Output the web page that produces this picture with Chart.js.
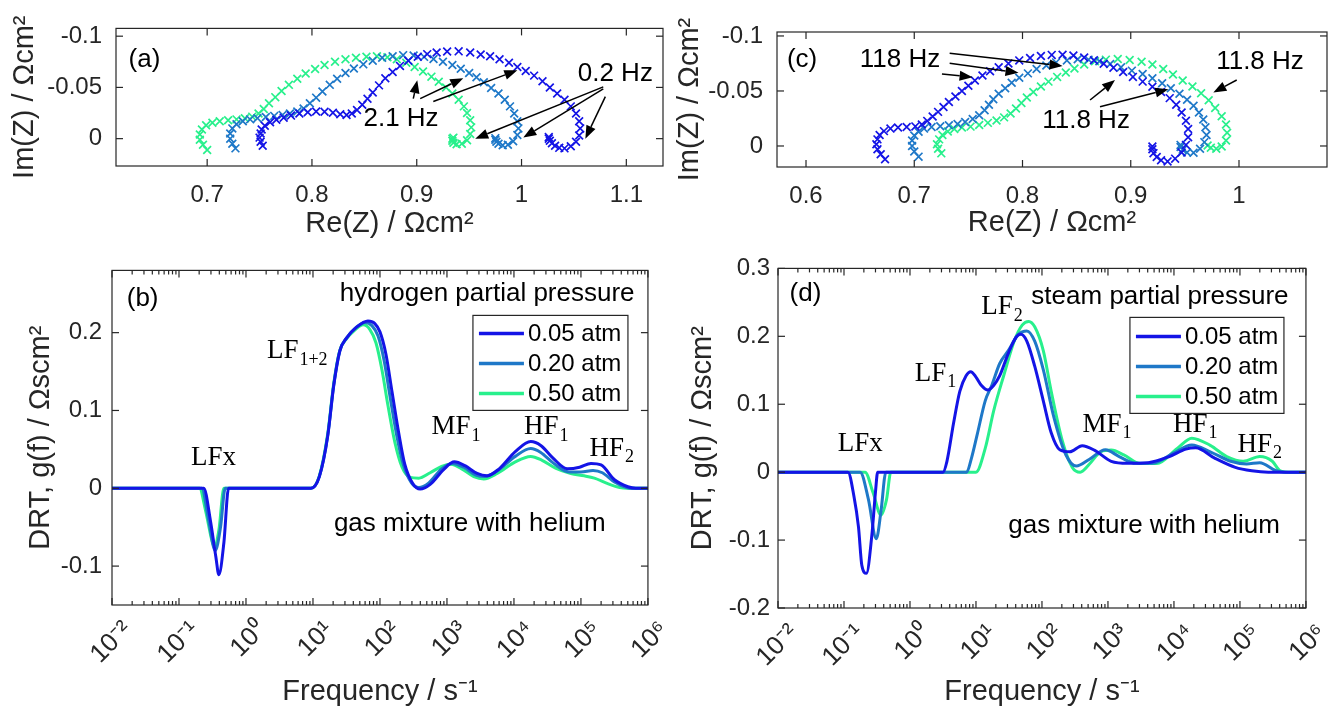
<!DOCTYPE html>
<html>
<head>
<meta charset="utf-8">
<script src="https://cdn.jsdelivr.net/npm/chart.js@4.4.1/dist/chart.umd.min.js"></script>
<style>
  body { margin: 0; background: #fff; }
  #fig { position: relative; width: 1338px; height: 707px; overflow: hidden; }
  canvas { position: absolute; }
</style>
</head>
<body>
<div id="fig">
  <canvas id="pa" width="680" height="246" style="left:0;top:0"></canvas>
  <canvas id="pc" width="668" height="246" style="left:670px;top:0"></canvas>
  <canvas id="pb" width="680" height="461" style="left:0;top:246px"></canvas>
  <canvas id="pd" width="668" height="461" style="left:670px;top:246px"></canvas>
</div>
<script>
// series names (partial pressure)
const pressures = ["0.05 atm", "0.20 atm", "0.50 atm"];

// Nyquist (a), hydrogen partial pressure: [Re(Z), Im(Z)]
const nyqH2_005 = [
  [0.753, 0.0070], [0.751, 0.0030], [0.750, -0.0010], [0.751, -0.0050], [0.752, -0.0090], [0.755, -0.0125],
  [0.760, -0.0160], [0.766, -0.0185], [0.773, -0.0205], [0.780, -0.0225], [0.788, -0.0245], [0.796, -0.0258],
  [0.804, -0.0265], [0.812, -0.0262], [0.820, -0.0252], [0.827, -0.0238], [0.833, -0.0230], [0.838, -0.0245],
  [0.843, -0.0280], [0.848, -0.0330], [0.853, -0.0390], [0.858, -0.0450], [0.864, -0.0520], [0.870, -0.0590],
  [0.877, -0.0650], [0.884, -0.0710], [0.892, -0.0760], [0.901, -0.0800], [0.910, -0.0825], [0.919, -0.0840],
  [0.929, -0.0850], [0.940, -0.0852], [0.951, -0.0840], [0.961, -0.0822], [0.970, -0.0805], [0.979, -0.0775],
  [0.988, -0.0740], [0.996, -0.0700], [1.004, -0.0660], [1.012, -0.0615], [1.020, -0.0560], [1.027, -0.0500],
  [1.034, -0.0440], [1.041, -0.0380], [1.047, -0.0315], [1.052, -0.0245], [1.055, -0.0170], [1.056, -0.0100],
  [1.055, -0.0030], [1.052, 0.0030], [1.047, 0.0075], [1.041, 0.0095], [1.036, 0.0090], [1.032, 0.0070],
  [1.029, 0.0045], [1.027, 0.0020], [1.026, 0.0000], [1.026, -0.0015]
];
const nyqH2_020 = [
  [0.727, 0.0095], [0.724, 0.0050], [0.722, 0.0000], [0.722, -0.0050], [0.724, -0.0100], [0.728, -0.0140],
  [0.734, -0.0170], [0.741, -0.0188], [0.748, -0.0200], [0.756, -0.0212], [0.764, -0.0222], [0.772, -0.0232],
  [0.779, -0.0245], [0.786, -0.0265], [0.792, -0.0295], [0.798, -0.0345], [0.804, -0.0400], [0.810, -0.0460],
  [0.817, -0.0525], [0.824, -0.0585], [0.832, -0.0640], [0.840, -0.0685], [0.849, -0.0725], [0.858, -0.0760],
  [0.867, -0.0790], [0.877, -0.0805], [0.887, -0.0815], [0.897, -0.0812], [0.907, -0.0798], [0.916, -0.0778],
  [0.925, -0.0750], [0.934, -0.0718], [0.942, -0.0682], [0.950, -0.0640], [0.957, -0.0600], [0.964, -0.0550],
  [0.971, -0.0495], [0.978, -0.0440], [0.984, -0.0380], [0.989, -0.0315], [0.993, -0.0245], [0.996, -0.0170],
  [0.997, -0.0100], [0.996, -0.0035], [0.992, 0.0025], [0.987, 0.0060], [0.982, 0.0065], [0.978, 0.0050],
  [0.976, 0.0030], [0.975, 0.0010], [0.975, -0.0005]
];
const nyqH2_050 = [
  [0.700, 0.0110], [0.696, 0.0060], [0.693, 0.0010], [0.693, -0.0040], [0.695, -0.0090], [0.699, -0.0130],
  [0.705, -0.0155], [0.712, -0.0170], [0.720, -0.0180], [0.728, -0.0188], [0.736, -0.0198], [0.743, -0.0215],
  [0.749, -0.0245], [0.754, -0.0290], [0.759, -0.0345], [0.765, -0.0405], [0.771, -0.0465], [0.778, -0.0525],
  [0.786, -0.0585], [0.794, -0.0635], [0.803, -0.0680], [0.812, -0.0718], [0.822, -0.0750], [0.832, -0.0775],
  [0.842, -0.0790], [0.852, -0.0800], [0.862, -0.0805], [0.872, -0.0795], [0.881, -0.0775], [0.890, -0.0740],
  [0.898, -0.0700], [0.906, -0.0655], [0.914, -0.0605], [0.921, -0.0555], [0.928, -0.0500], [0.934, -0.0440],
  [0.940, -0.0380], [0.945, -0.0315], [0.948, -0.0250], [0.951, -0.0180], [0.952, -0.0110], [0.951, -0.0045],
  [0.948, 0.0015], [0.943, 0.0050], [0.938, 0.0055], [0.935, 0.0040], [0.934, 0.0020], [0.934, 0.0000],
  [0.935, -0.0010]
];

// Nyquist (c), steam partial pressure: [Re(Z), Im(Z)]
const nyqH2O_005 = [
  [0.673, 0.0120], [0.669, 0.0075], [0.666, 0.0030], [0.665, -0.0015], [0.666, -0.0060], [0.668, -0.0100],
  [0.672, -0.0135], [0.678, -0.0158], [0.685, -0.0168], [0.693, -0.0172], [0.701, -0.0178], [0.707, -0.0195],
  [0.712, -0.0228], [0.717, -0.0268], [0.722, -0.0310], [0.727, -0.0355], [0.732, -0.0400], [0.738, -0.0450],
  [0.744, -0.0500], [0.750, -0.0548], [0.756, -0.0595], [0.763, -0.0640], [0.770, -0.0680], [0.778, -0.0715],
  [0.787, -0.0750], [0.797, -0.0778], [0.807, -0.0800], [0.817, -0.0818], [0.827, -0.0828], [0.837, -0.0830],
  [0.847, -0.0822], [0.857, -0.0805], [0.866, -0.0780], [0.875, -0.0748], [0.884, -0.0712], [0.893, -0.0672],
  [0.902, -0.0628], [0.911, -0.0585], [0.920, -0.0538], [0.928, -0.0490], [0.936, -0.0435], [0.942, -0.0375],
  [0.947, -0.0305], [0.951, -0.0230], [0.953, -0.0155], [0.953, -0.0080], [0.951, -0.0010], [0.947, 0.0060],
  [0.941, 0.0115], [0.934, 0.0140], [0.928, 0.0130], [0.924, 0.0100], [0.921, 0.0065], [0.920, 0.0030],
  [0.920, 0.0005]
];
const nyqH2O_020 = [
  [0.704, 0.0097], [0.700, 0.0050], [0.698, 0.0000], [0.698, -0.0050], [0.700, -0.0095], [0.704, -0.0130],
  [0.709, -0.0158], [0.716, -0.0172], [0.724, -0.0180], [0.732, -0.0188], [0.740, -0.0200], [0.747, -0.0218],
  [0.754, -0.0245], [0.760, -0.0280], [0.765, -0.0325], [0.769, -0.0375], [0.773, -0.0425], [0.778, -0.0475],
  [0.784, -0.0525], [0.790, -0.0575], [0.797, -0.0620], [0.805, -0.0660], [0.813, -0.0700], [0.822, -0.0732],
  [0.831, -0.0760], [0.841, -0.0778], [0.851, -0.0788], [0.861, -0.0785], [0.871, -0.0770], [0.881, -0.0745],
  [0.891, -0.0715], [0.901, -0.0685], [0.911, -0.0655], [0.920, -0.0615], [0.929, -0.0570], [0.937, -0.0525],
  [0.945, -0.0475], [0.952, -0.0420], [0.958, -0.0365], [0.963, -0.0305], [0.967, -0.0240], [0.969, -0.0170],
  [0.970, -0.0100], [0.968, -0.0035], [0.964, 0.0025], [0.958, 0.0062], [0.952, 0.0060], [0.948, 0.0035],
  [0.946, 0.0010], [0.946, -0.0010]
];
const nyqH2O_050 = [
  [0.725, 0.0067], [0.722, 0.0025], [0.721, -0.0015], [0.723, -0.0060], [0.726, -0.0100], [0.731, -0.0132],
  [0.737, -0.0155], [0.744, -0.0168], [0.752, -0.0176], [0.760, -0.0190], [0.768, -0.0210], [0.776, -0.0232],
  [0.783, -0.0260], [0.789, -0.0295], [0.794, -0.0340], [0.799, -0.0390], [0.804, -0.0440], [0.810, -0.0490],
  [0.817, -0.0540], [0.824, -0.0585], [0.832, -0.0628], [0.840, -0.0668], [0.848, -0.0705], [0.857, -0.0740],
  [0.867, -0.0770], [0.877, -0.0785], [0.888, -0.0790], [0.899, -0.0782], [0.910, -0.0765], [0.920, -0.0740],
  [0.930, -0.0700], [0.939, -0.0650], [0.948, -0.0595], [0.957, -0.0540], [0.965, -0.0480], [0.972, -0.0415],
  [0.978, -0.0345], [0.984, -0.0270], [0.988, -0.0195], [0.989, -0.0120], [0.988, -0.0050], [0.984, 0.0005],
  [0.979, 0.0025], [0.974, 0.0015], [0.971, -0.0005]
];

// DRT (b), hydrogen partial pressure: [log10 f, g(f)]
const drtH2_005 = [
  [-2, 0], [-0.63, 0], [-0.53, -0.042], [-0.45, -0.088], [-0.405, -0.111], [-0.33, -0.070], [-0.26, 0],
  [0.97, 0], [1.095, 0.015], [1.22, 0.067], [1.31, 0.132], [1.40, 0.176], [1.50, 0.193], [1.65, 0.207],
  [1.82, 0.215], [1.92, 0.212], [2.0, 0.201], [2.09, 0.172], [2.18, 0.124], [2.28, 0.071], [2.37, 0.031],
  [2.49, 0.006], [2.60, -0.001], [2.75, 0.005], [2.95, 0.024], [3.11, 0.034], [3.27, 0.029], [3.45, 0.019],
  [3.60, 0.016], [3.78, 0.025], [4.02, 0.047], [4.25, 0.060], [4.40, 0.055], [4.58, 0.039], [4.80, 0.025],
  [4.98, 0.027], [5.15, 0.032], [5.30, 0.030], [5.50, 0.011], [5.70, 0.002], [5.82, 0], [6, 0]
];
const drtH2_020 = [
  [-2, 0], [-0.66, 0], [-0.56, -0.040], [-0.46, -0.080], [-0.38, -0.050], [-0.31, 0],
  [0.97, 0], [1.095, 0.015], [1.22, 0.068], [1.31, 0.133], [1.40, 0.177], [1.50, 0.193], [1.62, 0.205],
  [1.78, 0.213], [1.88, 0.209], [1.97, 0.196], [2.06, 0.165], [2.15, 0.118], [2.25, 0.068], [2.35, 0.030],
  [2.47, 0.007], [2.58, 0.001], [2.73, 0.007], [2.92, 0.025], [3.08, 0.032], [3.25, 0.027], [3.43, 0.017],
  [3.57, 0.015], [3.76, 0.023], [4.02, 0.041], [4.25, 0.051], [4.40, 0.046], [4.58, 0.033], [4.82, 0.021],
  [5.00, 0.021], [5.18, 0.023], [5.32, 0.020], [5.50, 0.008], [5.68, 0.001], [5.78, 0], [6, 0]
];
const drtH2_050 = [
  [-2, 0], [-0.695, 0], [-0.60, -0.030], [-0.50, -0.070], [-0.47, -0.074], [-0.405, -0.054], [-0.33, 0],
  [0.97, 0], [1.095, 0.016], [1.22, 0.070], [1.31, 0.135], [1.40, 0.177], [1.50, 0.192], [1.62, 0.203],
  [1.75, 0.210], [1.85, 0.204], [1.94, 0.187], [2.03, 0.152], [2.12, 0.106], [2.22, 0.060], [2.33, 0.027],
  [2.45, 0.014], [2.58, 0.013], [2.75, 0.020], [2.92, 0.028], [3.06, 0.031], [3.22, 0.025], [3.40, 0.015],
  [3.55, 0.012], [3.75, 0.019], [4.02, 0.034], [4.25, 0.041], [4.42, 0.036], [4.62, 0.026], [4.85, 0.019],
  [5.05, 0.016], [5.20, 0.013], [5.40, 0.006], [5.58, 0.001], [5.68, 0], [6, 0]
];

// DRT (d), steam partial pressure: [log10 f, g(f)]
const drtH2O_005 = [
  [-2, 0], [-0.94, 0], [-0.85, -0.035], [-0.78, -0.081], [-0.73, -0.137], [-0.66, -0.149], [-0.58, -0.095],
  [-0.52, -0.026], [-0.49, 0], [0.50, 0], [0.56, 0.016], [0.66, 0.072], [0.755, 0.119], [0.85, 0.142],
  [0.92, 0.148], [1.00, 0.140], [1.08, 0.128], [1.18, 0.121], [1.27, 0.128], [1.36, 0.142], [1.49, 0.175],
  [1.61, 0.199], [1.68, 0.203], [1.77, 0.193], [1.89, 0.156], [2.02, 0.105], [2.14, 0.058], [2.27, 0.033],
  [2.42, 0.030], [2.61, 0.039], [2.80, 0.032], [3.05, 0.016], [3.30, 0.013], [3.61, 0.014], [3.93, 0.023],
  [4.18, 0.034], [4.33, 0.036], [4.61, 0.021], [4.93, 0.007], [5.18, 0.002], [5.43, 0], [6, 0]
];
const drtH2O_020 = [
  [-2, 0], [-0.755, 0], [-0.63, -0.040], [-0.51, -0.098], [-0.44, -0.058], [-0.365, 0],
  [0.86, 0], [0.93, 0.020], [1.02, 0.056], [1.14, 0.105], [1.24, 0.128], [1.36, 0.160], [1.49, 0.179],
  [1.64, 0.2025], [1.77, 0.208], [1.89, 0.193], [2.02, 0.151], [2.18, 0.081], [2.36, 0.026], [2.52, 0.009],
  [2.72, 0.019], [2.96, 0.033], [3.17, 0.023], [3.42, 0.013], [3.67, 0.013], [3.99, 0.028], [4.27, 0.040],
  [4.55, 0.030], [4.86, 0.016], [5.10, 0.012], [5.30, 0.014], [5.55, 0.002], [5.70, 0], [6, 0]
];
const drtH2O_050 = [
  [-2, 0], [-0.68, 0], [-0.56, -0.030], [-0.44, -0.063], [-0.355, -0.040], [-0.29, 0],
  [1.0, 0], [1.14, 0.035], [1.27, 0.091], [1.42, 0.142], [1.58, 0.193], [1.70, 0.2165], [1.80, 0.222],
  [1.89, 0.214], [2.02, 0.179], [2.14, 0.119], [2.30, 0.049], [2.46, 0.007], [2.58, 0], [2.72, 0.012],
  [2.89, 0.030], [3.05, 0.0325], [3.24, 0.0255], [3.49, 0.0126], [3.74, 0.0126], [4.05, 0.035], [4.27, 0.050],
  [4.55, 0.0395], [4.80, 0.023], [5.05, 0.016], [5.30, 0.023], [5.49, 0.016], [5.61, 0.002], [5.74, 0], [6, 0]
];

// ticks
const reTicksA = [0.7, 0.8, 0.9, 1.0, 1.1];
const reLabelsA = ["0.7", "0.8", "0.9", "1", "1.1"];
const reTicksC = [0.6, 0.7, 0.8, 0.9, 1.0];
const reLabelsC = ["0.6", "0.7", "0.8", "0.9", "1"];
const imTicks = [-0.1, -0.05, 0];
const imLabels = ["-0.1", "-0.05", "0"];
const freqTicks = [1e-2, 1e-1, 1e0, 1e1, 1e2, 1e3, 1e4, 1e5, 1e6];
const freqLabels = ["10⁻²", "10⁻¹", "10⁰", "10¹", "10²", "10³", "10⁴", "10⁵", "10⁶"];
const drtTicksB = [-0.1, 0, 0.1, 0.2];
const drtLabelsB = ["-0.1", "0", "0.1", "0.2"];
const drtTicksD = [-0.2, -0.1, 0, 0.1, 0.2, 0.3];
const drtLabelsD = ["-0.2", "-0.1", "0", "0.1", "0.2", "0.3"];

// estilo
const SANS = "'Liberation Sans', Arial, Helvetica, sans-serif";
const SERIF = "'Liberation Serif', 'Times New Roman', serif";
const INK = "#262626";
const COLORS = ["#1414e6", "#1e78c8", "#28f08c"];

const toXY = pts => pts.map(([x, y]) => ({ x, y }));
const toFreq = pts => pts.map(([lf, g]) => ({ x: Math.pow(10, lf), y: g }));

// frame, inward ticks, text labels, arrows and legend box
const decor = {
  id: "decor",
  afterDatasetsDraw(chart, args, o) {
    const ctx = chart.ctx, a = chart.chartArea;
    const xs = chart.scales.x, ys = chart.scales.y;
    const isLog = xs.type === "logarithmic";
    const line = (x1, y1, x2, y2) => { ctx.beginPath(); ctx.moveTo(x1, y1); ctx.lineTo(x2, y2); ctx.stroke(); };
    ctx.save();
    ctx.strokeStyle = INK;
    ctx.lineWidth = 1.2;
    ctx.strokeRect(a.left, a.top, a.right - a.left, a.bottom - a.top);
    const L = 7;
    xs.ticks.forEach(t => {
      const p = xs.getPixelForValue(t.value);
      line(p, a.bottom, p, a.bottom - L);
      line(p, a.top, p, a.top + L);
    });
    ys.ticks.forEach(t => {
      const p = ys.getPixelForValue(t.value);
      line(a.left, p, a.left + L, p);
      line(a.right, p, a.right - L, p);
    });
    if (isLog) {
      for (let d = -2; d < 6; d++) {
        for (let m = 2; m < 10; m++) {
          const p = xs.getPixelForValue(m * Math.pow(10, d));
          line(p, a.bottom, p, a.bottom - 4);
          line(p, a.top, p, a.top + 4);
        }
      }
    }

    // texts
    ctx.fillStyle = "#000";
    ctx.textBaseline = "middle";
    (o.texts || []).forEach(t => {
      const px = xs.getPixelForValue(isLog ? Math.pow(10, t.x) : t.x);
      const py = ys.getPixelForValue(t.y);
      ctx.font = t.serif ? `27px ${SERIF}` : `26px ${SANS}`;
      ctx.textAlign = t.align || "left";
      ctx.fillText(t.text, px, py);
      if (t.sub) {
        const w = ctx.measureText(t.text).width;
        ctx.font = `18px ${SERIF}`;
        ctx.textAlign = "left";
        ctx.fillText(t.sub, px + w + 1, py + 9);
      }
    });

    // arrows
    ctx.strokeStyle = "#000";
    ctx.lineWidth = 1.5;
    (o.arrows || []).forEach(([x1, y1, x2, y2]) => {
      const p1 = { x: xs.getPixelForValue(x1), y: ys.getPixelForValue(y1) };
      const p2 = { x: xs.getPixelForValue(x2), y: ys.getPixelForValue(y2) };
      const ang = Math.atan2(p2.y - p1.y, p2.x - p1.x);
      const hl = 13, hw = 5;
      const bx = p2.x - hl * Math.cos(ang), by = p2.y - hl * Math.sin(ang);
      line(p1.x, p1.y, bx, by);
      ctx.beginPath();
      ctx.moveTo(p2.x, p2.y);
      ctx.lineTo(bx + hw * Math.sin(ang), by - hw * Math.cos(ang));
      ctx.lineTo(bx - hw * Math.sin(ang), by + hw * Math.cos(ang));
      ctx.closePath();
      ctx.fill();
    });

    // legend
    if (o.legend) {
      const lg = o.legend;
      const bx = a.right - lg.right - lg.w, by = a.top + lg.top;
      ctx.fillStyle = "#fff";
      ctx.fillRect(bx, by, lg.w, lg.h);
      ctx.strokeStyle = INK;
      ctx.lineWidth = 1.2;
      ctx.strokeRect(bx, by, lg.w, lg.h);
      ctx.font = `24px ${SANS}`;
      ctx.textAlign = "left";
      chart.data.datasets.forEach((ds, i) => {
        const yy = by + lg.row0 + i * lg.dy;
        ctx.strokeStyle = ds.borderColor;
        ctx.lineWidth = 3.5;
        line(bx + 6, yy, bx + 51, yy);
        ctx.fillStyle = "#000";
        ctx.fillText(ds.label, bx + 55, yy + 1);
      });
    }
    ctx.restore();
  }
};

function buildScale(o) {
  return {
    type: o.type || "linear",
    position: o.position,
    min: o.min,
    max: o.max,
    reverse: !!o.reverse,
    grid: { display: false, drawTicks: false },
    border: { display: false },
    afterBuildTicks: s => { s.ticks = o.ticks.map(v => ({ value: v })); },
    afterFit: s => { if (o.position === "left") s.width = o.size; else s.height = o.size; },
    ticks: {
      autoSkip: false,
      color: INK,
      font: { family: SANS, size: o.tickSize || 24 },
      padding: o.tickPad,
      minRotation: o.rot || 0,
      maxRotation: o.rot || 0,
      labelOffset: o.labelOffset || 0,
      callback: (v, i) => o.labels[i]
    },
    title: {
      display: true,
      text: o.title,
      color: INK,
      font: { family: SANS, size: 29, lineHeight: 1 },
      padding: o.titlePad
    }
  };
}

function makeChart(id, sets, opts) {
  return new Chart(document.getElementById(id), {
    type: "scatter",
    data: {
      datasets: sets.map((pts, i) => Object.assign({
        label: pressures[i],
        data: opts.nyquist ? toXY(pts) : toFreq(pts),
        borderColor: COLORS[i],
        backgroundColor: COLORS[i]
      }, opts.nyquist ? {
        showLine: false, pointStyle: "crossRot", pointRadius: 5.5, borderWidth: 1.7
      } : {
        showLine: true, pointRadius: 0, borderWidth: 3, cubicInterpolationMode: "monotone"
      }))
    },
    options: {
      responsive: false,
      animation: false,
      devicePixelRatio: 1,
      layout: { padding: opts.padding },
      plugins: {
        legend: { display: false },
        tooltip: { enabled: false },
        decor: opts.decor
      },
      scales: { x: buildScale(opts.x), y: buildScale(opts.y) }
    },
    plugins: [decor]
  });
}

// (a)
makeChart("pa", [nyqH2_005, nyqH2_020, nyqH2_050], {
  nyquist: true,
  padding: { left: 0, top: 25, right: 17, bottom: 0 },
  x: { position: "bottom", min: 0.613, max: 1.135, ticks: reTicksA, labels: reLabelsA,
       size: 80, tickPad: 15, title: "Re(Z) / Ωcm²", titlePad: { bottom: 7.5 } },
  y: { position: "left", min: -0.1076, max: 0.0267, reverse: true, ticks: imTicks, labels: imLabels,
       size: 116, tickPad: 14, title: "Im(Z) / Ωcm²", titlePad: { top: 10.5 } },
  decor: {
    texts: [
      { x: 0.625, y: -0.077, text: "(a)" },
      { x: 1.0895, y: -0.0629, text: "0.2 Hz", align: "center" },
      { x: 0.885, y: -0.019, text: "2.1 Hz", align: "center" }
    ],
    arrows: [
      [0.8967, -0.039, 0.9005, -0.0571], [0.9033, -0.039, 0.9444, -0.059], [0.9158, -0.0362, 0.996, -0.0667],
      [1.078, -0.0505, 0.9558, 0], [1.078, -0.0486, 1.0017, -0.001], [1.080, -0.041, 1.0609, 0]
    ]
  }
});

// (c)
makeChart("pc", [nyqH2O_005, nyqH2O_020, nyqH2O_050], {
  nyquist: true,
  padding: { left: 0, top: 32, right: 11, bottom: 0 },
  x: { position: "bottom", min: 0.5732, max: 1.0813, ticks: reTicksC, labels: reLabelsC,
       size: 79, tickPad: 15, title: "Re(Z) / Ωcm²", titlePad: { bottom: 8.5 } },
  y: { position: "left", min: -0.1036, max: 0.0191, reverse: true, ticks: imTicks, labels: imLabels,
       size: 107, tickPad: 14, title: "Im(Z) / Ωcm²", titlePad: { top: 5.5 } },
  decor: {
    texts: [
      { x: 0.5824, y: -0.0782, text: "(c)" },
      { x: 0.6868, y: -0.0782, text: "118 Hz", align: "center" },
      { x: 1.0194, y: -0.0764, text: "11.8 Hz", align: "center" },
      { x: 0.8587, y: -0.0227, text: "11.8 Hz", align: "center" }
    ],
    arrows: [
      [0.7327, -0.0843, 0.8370, -0.0727], [0.7327, -0.0752, 0.7963, -0.0666], [0.7256, -0.0655, 0.7539, -0.0625],
      [0.9979, -0.060, 0.9763, -0.0485], [0.8624, -0.0418, 0.8855, -0.060], [0.8716, -0.0357, 0.9347, -0.0515]
    ]
  }
});

// (b)
makeChart("pb", [drtH2_005, drtH2_020, drtH2_050], {
  nyquist: false,
  padding: { left: 0, top: 6, right: 18, bottom: 0 },
  x: { type: "logarithmic", position: "bottom", min: 1e-2, max: 1e6, ticks: freqTicks, labels: freqLabels,
       size: 102, tickPad: 10, tickSize: 26, rot: 45, labelOffset: 16, title: "Frequency / s⁻¹", titlePad: { bottom: 1 } },
  y: { position: "left", min: -0.15, max: 0.28, ticks: drtTicksB, labels: drtLabelsB,
       size: 112, tickPad: 10, title: "DRT, g(f) / Ωscm²", titlePad: { top: 26.5 } },
  decor: {
    texts: [
      { x: -1.78, y: 0.243, text: "(b)" },
      { x: 5.80, y: 0.250, text: "hydrogen partial pressure", align: "right" },
      { x: 3.34, y: -0.046, text: "gas mixture with helium", align: "center" },
      { x: -0.822, y: 0.039, text: "LFx", serif: true },
      { x: 0.313, y: 0.176, text: "LF", sub: "1+2", serif: true },
      { x: 2.77, y: 0.079, text: "MF", sub: "1", serif: true },
      { x: 4.15, y: 0.079, text: "HF", sub: "1", serif: true },
      { x: 5.127, y: 0.051, text: "HF", sub: "2", serif: true }
    ],
    legend: { right: 20, top: 45, w: 155, h: 95, row0: 18, dy: 30 }
  }
});

// (d)
makeChart("pd", [drtH2O_005, drtH2O_020, drtH2O_050], {
  nyquist: false,
  padding: { left: 0, top: 4, right: 12, bottom: 0 },
  x: { type: "logarithmic", position: "bottom", min: 1e-2, max: 1e6, ticks: freqTicks, labels: freqLabels,
       size: 99, tickPad: 10, tickSize: 26, rot: 45, labelOffset: 16, title: "Frequency / s⁻¹", titlePad: { bottom: 1 } },
  y: { position: "left", min: -0.2, max: 0.3, ticks: drtTicksD, labels: drtLabelsD,
       size: 108, tickPad: 8, title: "DRT, g(f) / Ωscm²", titlePad: { top: 18.5 } },
  decor: {
    texts: [
      { x: -1.825, y: 0.262, text: "(d)" },
      { x: 5.737, y: 0.258, text: "steam partial pressure", align: "right" },
      { x: 3.547, y: -0.0796, text: "gas mixture with helium", align: "center" },
      { x: -1.095, y: 0.042, text: "LFx", serif: true },
      { x: 0.073, y: 0.145, text: "LF", sub: "1", serif: true },
      { x: 1.08, y: 0.243, text: "LF", sub: "2", serif: true },
      { x: 2.613, y: 0.070, text: "MF", sub: "1", serif: true },
      { x: 3.985, y: 0.070, text: "HF", sub: "1", serif: true },
      { x: 4.964, y: 0.0405, text: "HF", sub: "2", serif: true }
    ],
    legend: { right: 22, top: 49, w: 154, h: 96, row0: 19, dy: 30 }
  }
});
</script>
</body>
</html>
